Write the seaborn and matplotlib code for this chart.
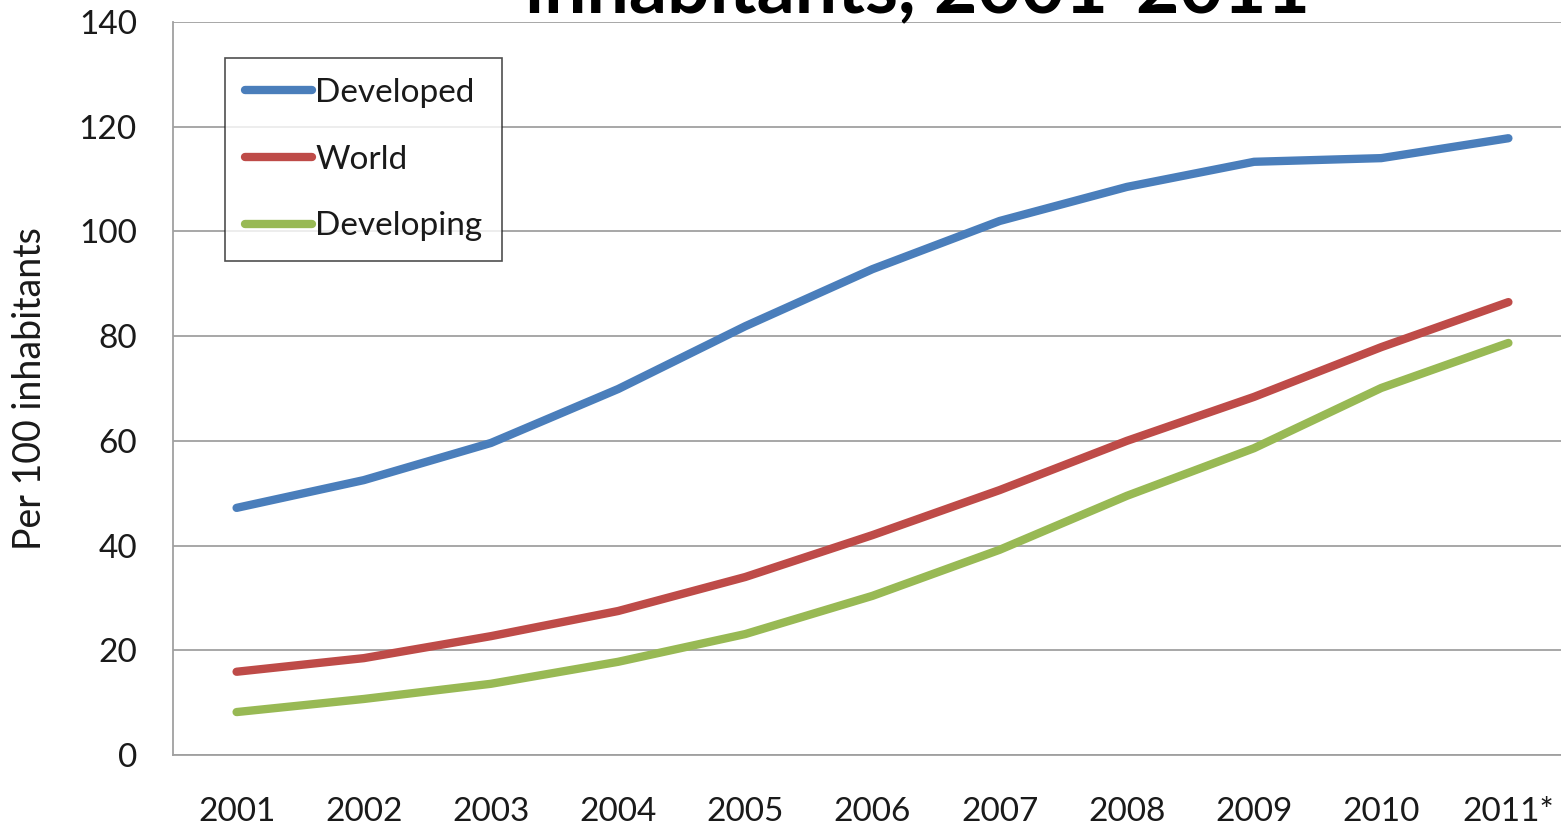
import pandas as pd
import numpy as np
import matplotlib
matplotlib.use("Agg")
import matplotlib.pyplot as plt
import seaborn as sns

years = ["2001", "2002", "2003", "2004", "2005", "2006",
         "2007", "2008", "2009", "2010", "2011*"]
developed = [47.2, 52.5, 59.6, 69.9, 81.9, 92.8, 102.0, 108.5, 113.3, 114.0, 117.8]
world = [15.9, 18.5, 22.7, 27.5, 34.0, 42.0, 50.6, 60.0, 68.4, 77.9, 86.5]
developing = [8.2, 10.7, 13.6, 17.8, 23.1, 30.4, 39.2, 49.5, 58.6, 70.1, 78.7]

series = ["Developed", "World", "Developing"]
colors = ["#4A7EBB", "#BE4B48", "#98B954"]

df = pd.DataFrame({
    "year": years * 3,
    "pos": list(range(len(years))) * 3,
    "value": developed + world + developing,
    "group": np.repeat(series, len(years)),
})

sns.set_style("white")
plt.rcParams['font.family'] = ['Lato', 'DejaVu Sans']
text_col = "#1a1a1a"

fig = plt.figure(figsize=(15.61, 8.25), dpi=100)
# axes runs a little past the right edge, like the cropped original
ax = fig.add_axes([173 / 1561, 70 / 825, 1399 / 1561, 733 / 825])

sns.lineplot(data=df, x="pos", y="value", hue="group", hue_order=series,
             palette=colors, linewidth=6, ax=ax, sort=False,
             solid_capstyle="round")

ax.set_xlim(-0.5, len(years) - 0.5)
ax.set_ylim(0, 140)
ax.set_xticks(range(len(years)))
ax.set_xticklabels(years)
ax.set_yticks(range(0, 141, 20))
ax.tick_params(axis="both", length=0, labelsize=24, colors=text_col)
ax.tick_params(axis="x", pad=30)
ax.tick_params(axis="y", pad=26)
ax.yaxis.grid(True, color="#a0a0a0", linewidth=1.3)
ax.set_axisbelow(True)
for s in ["top", "right"]:
    ax.spines[s].set_visible(False)
for s in ["left", "bottom"]:
    ax.spines[s].set_color("#a0a0a0")
    ax.spines[s].set_linewidth(1.3)

ax.set_xlabel("")
ax.set_ylabel("Per 100 inhabitants", fontsize=27, color=text_col, labelpad=22)

leg = ax.legend(loc="upper left", bbox_to_anchor=(52 / 1399, 1 - 36 / 733),
                fontsize=24, frameon=True, fancybox=False, handlelength=2.0,
                handletextpad=0.1, labelspacing=1.1, borderpad=0.6,
                borderaxespad=0)
leg.get_frame().set_edgecolor("#222222")
leg.get_frame().set_linewidth(1.2)
for t in leg.get_texts():
    t.set_color(text_col)
for h in leg.get_lines():
    h.set_linewidth(6)
    h.set_solid_capstyle("round")

fig.text(918 / 1561, 1 - 12 / 825, "inhabitants, 2001-2011", ha="center",
         va="baseline", fontsize=54, fontweight="bold", color="black")

fig.savefig("out.png", dpi=100)
